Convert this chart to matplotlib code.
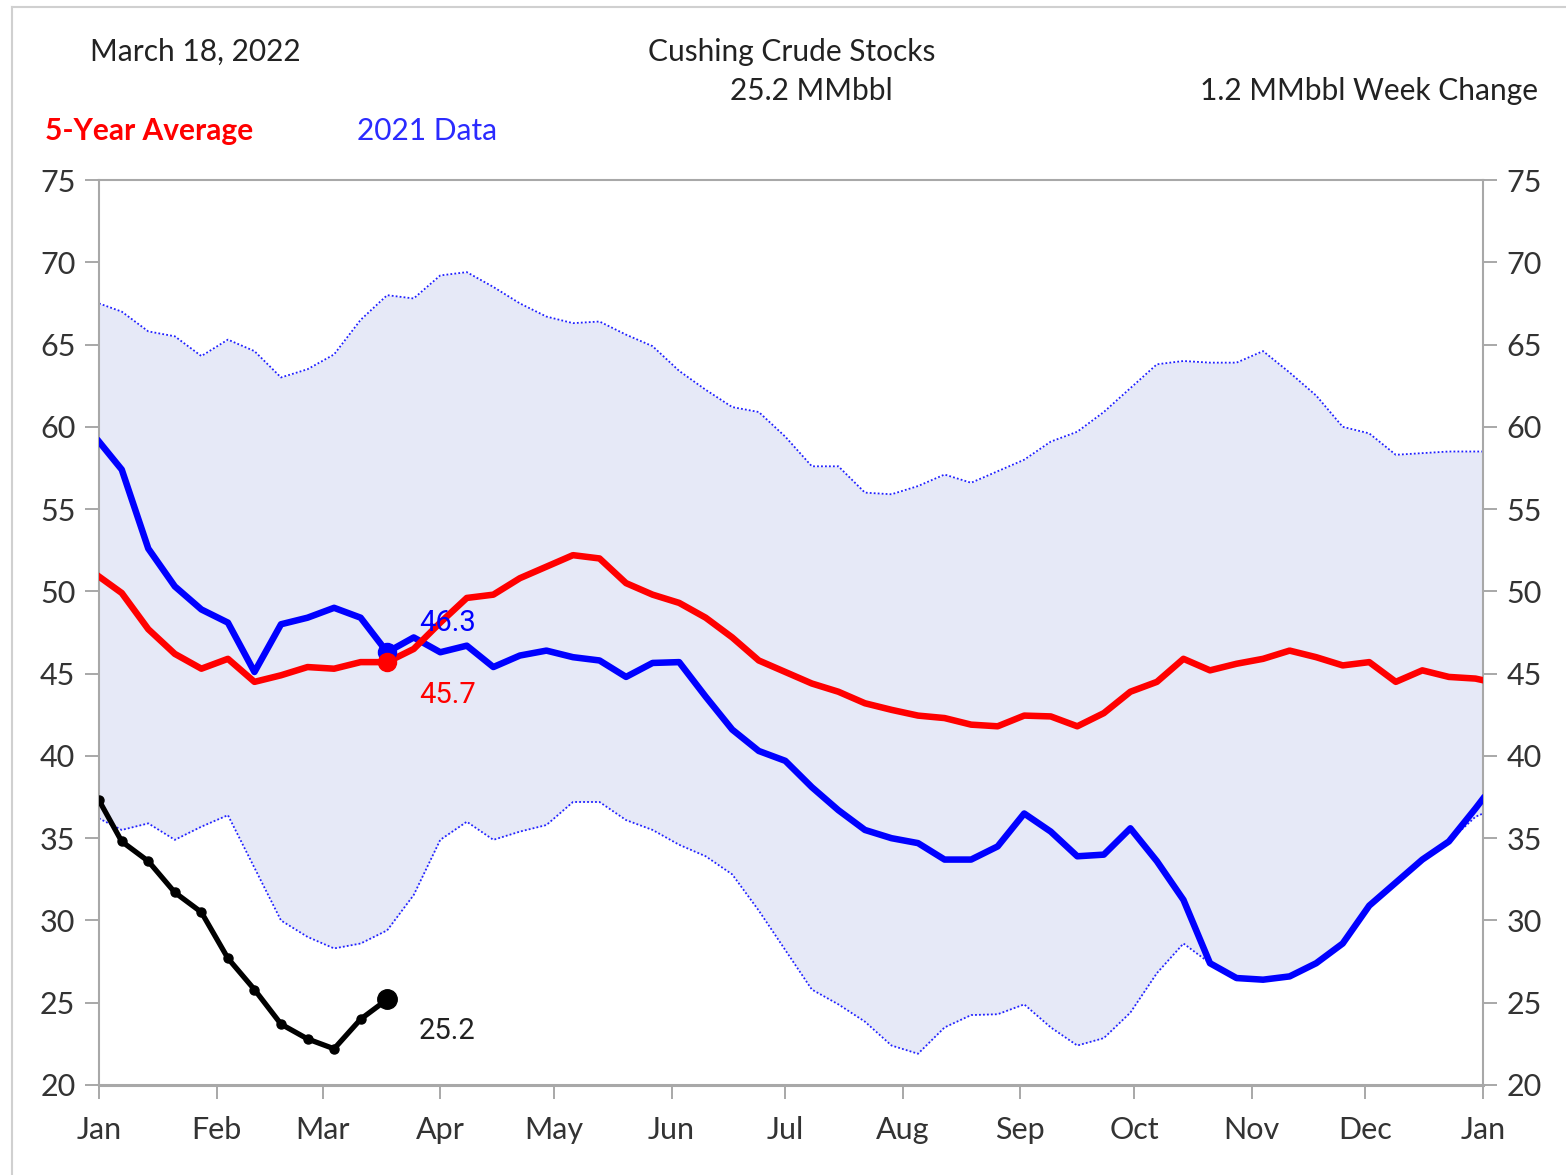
import matplotlib
matplotlib.use("Agg")
import matplotlib.pyplot as plt
from matplotlib.lines import Line2D

W, H = 1566, 1175
DPI = 100

# ---- data (day of year) ----
week_days = [0, 6, 13, 20, 27, 34, 41, 48, 55, 62, 69, 76, 83, 90, 97, 104, 111, 118,
             125, 132, 139, 146, 153, 160, 167, 174, 181, 188, 195, 202, 209, 216, 223,
             230, 237, 244, 251, 258, 265, 272, 279, 286, 293, 300, 307, 314, 321, 328,
             335, 342, 349, 356, 363, 365]

avg5 = [50.9, 49.9, 47.7, 46.2, 45.3, 45.9, 44.5, 44.9, 45.4, 45.3, 45.7, 45.7, 46.5,
        48.1, 49.6, 49.8, 50.8, 51.5, 52.2, 52.0, 50.5, 49.8, 49.3, 48.4, 47.2, 45.8,
        45.1, 44.4, 43.9, 43.2, 42.8, 42.45, 42.3, 41.9, 41.8, 42.45, 42.4, 41.8, 42.6,
        43.9, 44.5, 45.9, 45.2, 45.6, 45.9, 46.4, 46.0, 45.5, 45.7, 44.5, 45.2, 44.8,
        44.7, 44.6]

data2021 = [59.1, 57.4, 52.6, 50.3, 48.9, 48.1, 45.1, 48.0, 48.4, 49.0, 48.4, 46.3, 47.2,
            46.3, 46.7, 45.4, 46.1, 46.4, 46.0, 45.8, 44.8, 45.65, 45.7, 43.6, 41.6, 40.3,
            39.7, 38.1, 36.7, 35.5, 35.0, 34.7, 33.7, 33.7, 34.5, 36.5, 35.4, 33.9, 34.0,
            35.6, 33.6, 31.25, 27.4, 26.5, 26.4, 26.6, 27.4, 28.6, 30.9, 32.3, 33.7, 34.8,
            36.8, 37.4]

range_high = [67.5, 67.0, 65.8, 65.5, 64.3, 65.3, 64.6, 63.0, 63.5, 64.4, 66.5, 68.0, 67.8,
              69.2, 69.4, 68.5, 67.5, 66.7, 66.3, 66.4, 65.6, 64.9, 63.4, 62.25, 61.2, 60.9,
              59.4, 57.6, 57.6, 56.0, 55.9, 56.4, 57.1, 56.6, 57.3, 58.0, 59.1, 59.7, 60.9,
              62.35, 63.8, 64.0, 63.9, 63.9, 64.6, 63.3, 61.9, 60.0, 59.6, 58.3, 58.4, 58.5,
              58.5, 58.5]

range_low = [36.2, 35.5, 35.9, 34.9, 35.7, 36.4, 33.2, 30.0, 29.0, 28.3, 28.6, 29.4, 31.55,
             34.9, 36.0, 34.9, 35.4, 35.8, 37.2, 37.2, 36.1, 35.5, 34.6, 33.9, 32.8, 30.6,
             28.2, 25.8, 24.9, 23.85, 22.4, 21.9, 23.5, 24.25, 24.3, 24.9, 23.5, 22.4, 22.85,
             24.4, 26.8, 28.6, 27.4, 26.5, 26.4, 26.6, 27.4, 28.6, 30.9, 32.3, 33.7, 34.8,
             36.3, 36.5]

days2022 = [0, 6, 13, 20, 27, 34, 41, 48, 55, 62, 69, 76]
data2022 = [37.3, 34.8, 33.6, 31.7, 30.5, 27.7, 25.8, 23.7, 22.8, 22.2, 24.0, 25.2]

month_days = [0, 31, 59, 90, 120, 151, 181, 212, 243, 273, 304, 334, 365]
month_labels = ["Jan", "Feb", "Mar", "Apr", "May", "Jun", "Jul", "Aug", "Sep", "Oct",
                "Nov", "Dec", "Jan"]
y_ticks = [20, 25, 30, 35, 40, 45, 50, 55, 60, 65, 70, 75]

last_idx = 11  # index of current week in the series (day 76)

plt.rcParams['font.family'] = ['Lato', 'DejaVu Sans']

fig = plt.figure(figsize=(W / DPI, H / DPI), dpi=DPI)
fig.patch.set_facecolor('white')

def fx(px):
    return px / W

def fy(py):
    return 1 - py / H

ax = fig.add_axes([fx(99), fy(1085), fx(1483) - fx(99), fy(180) - fy(1085)])
ax.set_xlim(0, 365)
ax.set_ylim(20, 75)

ax.fill_between(week_days, range_low, range_high, color='#E6E9F7', lw=0, zorder=1)
ax.plot(week_days, range_high, color='#2020FF', lw=1.3, ls=(0, (1, 1.2)), zorder=2)
ax.plot(week_days, range_low, color='#2020FF', lw=1.3, ls=(0, (1, 1.2)), zorder=2)

ax.plot(week_days, avg5, color='#FF0000', lw=4.7, zorder=4)
ax.plot(week_days, data2021, color='#0000FF', lw=4.7, zorder=3)

ax.plot(days2022, data2022, color='black', lw=3.8, marker='o', ms=6.5, zorder=5)
ax.plot(days2022[-1], data2022[-1], 'o', color='black', ms=14, zorder=6)
ax.plot(week_days[last_idx], data2021[last_idx], 'o', color='#0000FF', ms=13, zorder=5)
ax.plot(week_days[last_idx], avg5[last_idx], 'o', color='#FF0000', ms=13, zorder=6)

lab_font = ['Roboto', 'DejaVu Sans']
ax.annotate(f"{data2021[last_idx]:.1f}", (week_days[last_idx], data2021[last_idx]),
            xytext=(23, 21), textcoords='offset points', color='#0000FF', fontsize=21,
            family=lab_font, va='center', ha='left', zorder=7)
ax.annotate(f"{avg5[last_idx]:.1f}", (week_days[last_idx], avg5[last_idx]),
            xytext=(23, -24), textcoords='offset points', color='#FF0000', fontsize=21,
            family=lab_font, va='center', ha='left', zorder=7)
ax.annotate(f"{data2022[-1]:.1f}", (days2022[-1], data2022[-1]),
            xytext=(23, -23), textcoords='offset points', color='#222222', fontsize=21,
            family=lab_font, va='center', ha='left', zorder=7)

ax.set_xticks(month_days)
ax.set_xticklabels(month_labels)
ax.set_yticks(y_ticks)
ax.tick_params(axis='both', colors='#999999', labelcolor='#333333', labelsize=22,
               length=10, width=1.2)
ax.tick_params(axis='y', right=True, labelright=True, pad=7)
ax.tick_params(axis='x', pad=12)
for s in ax.spines.values():
    s.set_color('#A8A8A8')
    s.set_linewidth(1.5)
ax.spines['bottom'].set_linewidth(2.2)

# header texts
hfs = 21.5
fig.text(fx(90), fy(52), "March 18, 2022", fontsize=hfs, color='#222222', va='center', ha='left')
fig.text(fx(792), fy(52), "Cushing Crude Stocks", fontsize=hfs, color='#222222', va='center', ha='center')
fig.text(fx(811), fy(91), "25.2 MMbbl", fontsize=hfs, color='#222222', va='center', ha='center')
fig.text(fx(1538), fy(91), "1.2 MMbbl Week Change", fontsize=hfs, color='#222222', va='center', ha='right')
fig.text(fx(45), fy(131), "5-Year Average", fontsize=hfs, color='#FF0000', fontweight='bold', va='center', ha='left')
fig.text(fx(357), fy(131), "2021 Data", fontsize=hfs, color='#2B2BFF', va='center', ha='left')

# outer frame
fig.add_artist(Line2D([fx(12), fx(12)], [fy(7), 0], color='#D0D0D0', lw=1.5))
fig.add_artist(Line2D([fx(12), 1], [fy(7), fy(7)], color='#D0D0D0', lw=1.5))

fig.savefig("out.png", dpi=DPI)
